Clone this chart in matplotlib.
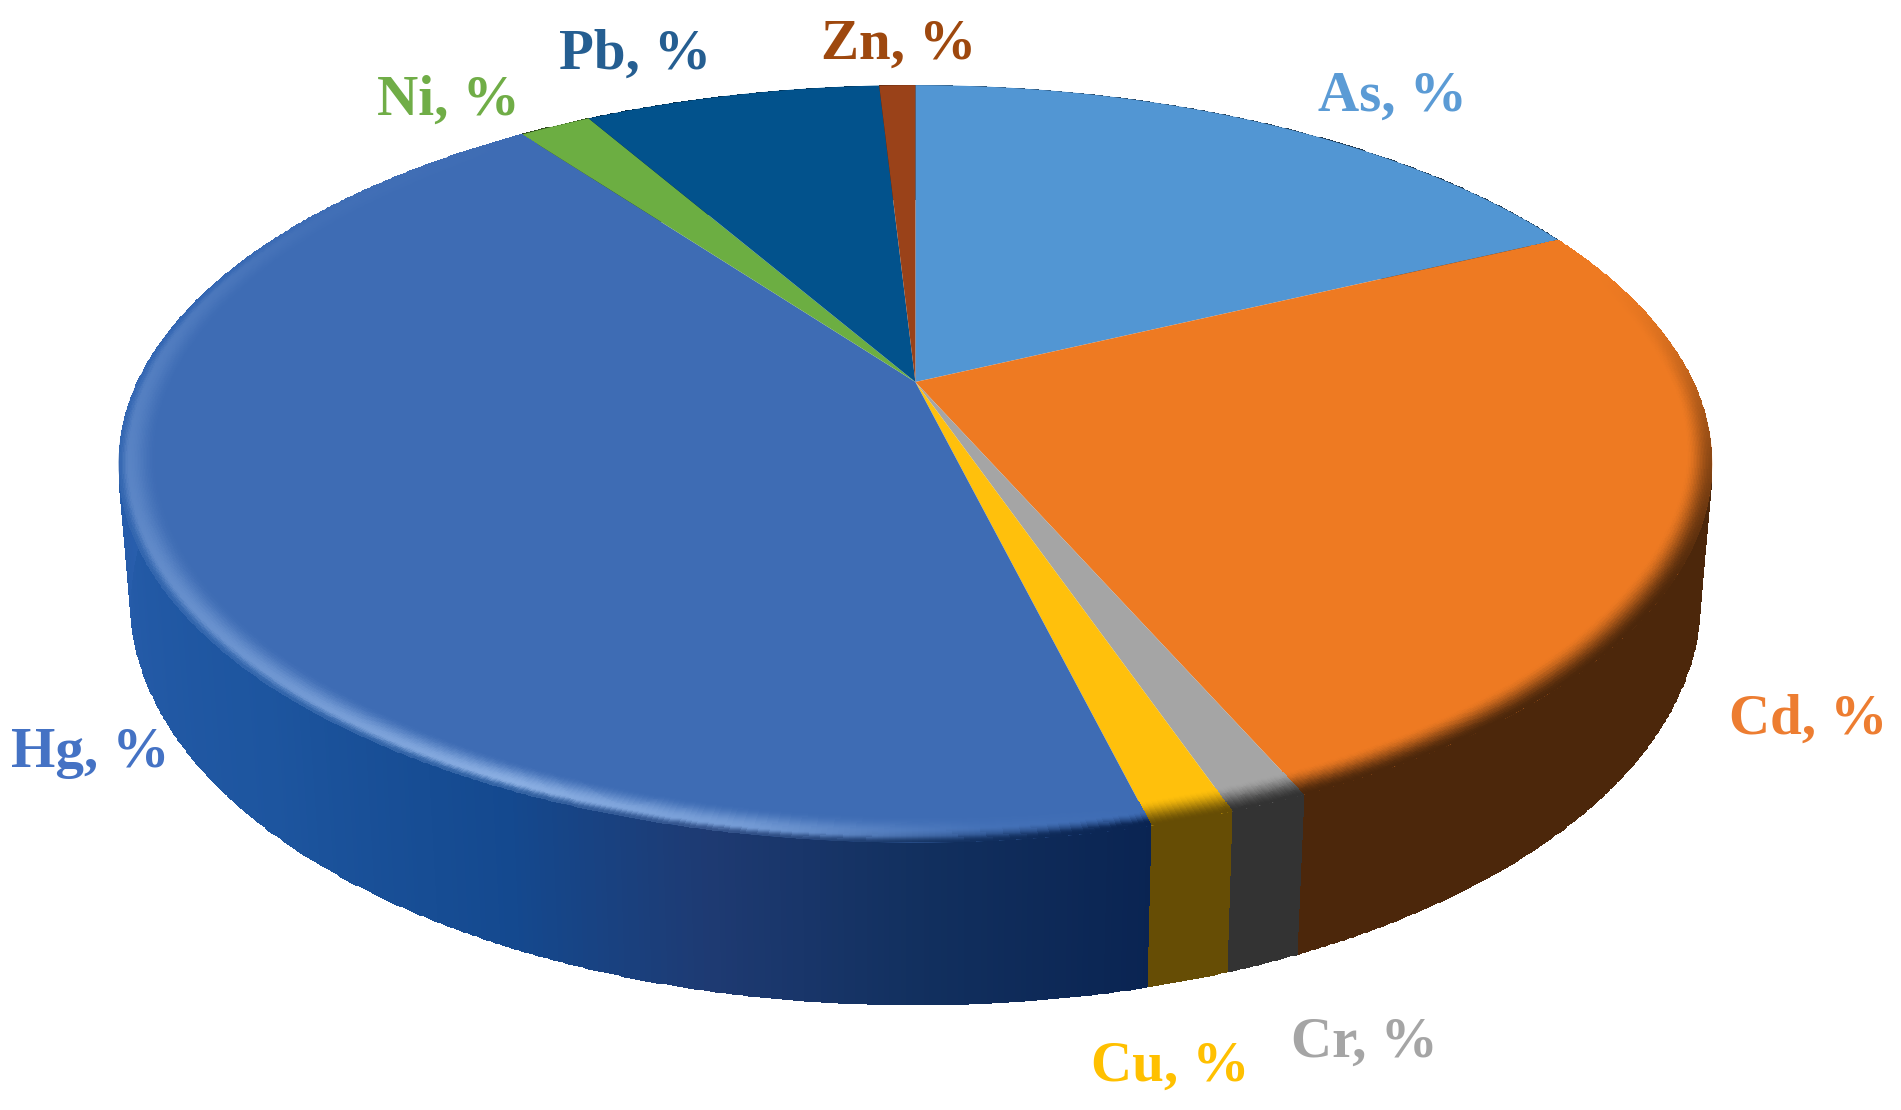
import numpy as np
import matplotlib
matplotlib.use("Agg")
import matplotlib.pyplot as plt
from matplotlib.colors import to_rgb
from matplotlib.path import Path
from matplotlib.transforms import Transform, Affine2D

# ---- data ----
metals = ["As", "Cd", "Cr", "Cu", "Hg", "Ni", "Pb", "Zn"]
shares = [17.9, 25.5, 1.3, 1.4, 43.7, 1.8, 7.4, 0.9]
top_colors = ["#5296d3", "#ee7a22", "#a5a5a5", "#ffc00c", "#3e6cb4", "#6cae42", "#02528c", "#9a4219"]
label_colors = ["#5b9bd5", "#ed7d31", "#a5a5a5", "#ffc000", "#4472c4", "#70ad47", "#255e91", "#9e480e"]
label_text = [m + ", %" for m in metals]
label_x = [1392, 1808, 1364, 1170, 90, 448, 635, 899]
label_y = [97, 720, 1043, 1067, 753, 101, 55, 45]
wall_dark = [0.32, 0.32, 0.31, 0.40, 0.5, 0.4, 0.4, 0.4]

# Hg wall colour along the angle (deg clockwise from top)
hg_ang = [166, 180, 192, 205, 225, 270, 323]
hg_cols = ["#0a2452", "#12305f", "#1e3a72", "#14498f", "#1d559f", "#2a5fae", "#2a5fae"]
# Hg rim highlight strength along the angle
hl_ang = [166, 176, 190, 205, 225, 250, 275, 300, 323]
hl_str = [0.0, 0.1, 0.7, 1.0, 0.65, 0.4, 0.25, 0.05, 0.0]

# ---- camera ----
CX, CY, SX, SY, K = 915.4, 382.0, 778.0, 361.0, 0.216
DROP, DEPTH = 137.0, 0.015
RIM = 0.955


def project(u, v, z=0.0):
    w = 1 + K * v + DEPTH * z
    return CX + SX * u / w, CY + (-SY * v + DROP * z) / w


class Perspective(Transform):
    input_dims = output_dims = 2
    is_affine = False
    has_inverse = False

    def transform_non_affine(self, values):
        values = np.asarray(values, float)
        x, y = project(values[:, 0], values[:, 1])
        return np.column_stack([x, y])

    def transform_path_non_affine(self, path):
        polys = path.transformed(Affine2D().scale(2000)).to_polygons()
        pts = np.vstack(polys) / 2000
        return Path(self.transform_non_affine(pts), closed=True)


def hex_array(cols):
    return np.array([to_rgb(c) for c in cols])


def wall_color(i, ang):
    if metals[i] == "Hg":
        tab = hex_array(hg_cols)
        return np.column_stack([np.interp(ang, hg_ang, tab[:, j]) for j in range(3)])
    return np.tile(np.array(to_rgb(top_colors[i])) * wall_dark[i], (len(ang), 1))


fig = plt.figure(figsize=(19.01, 11.10), dpi=100, facecolor="white")
ax = fig.add_axes([0, 0, 1, 1])
wedges, _ = ax.pie(shares, colors=top_colors, startangle=90, counterclock=False,
                   radius=1.0, wedgeprops={"linewidth": 0})
ax.set_aspect("auto")
ax.set_xlim(0, 1901)
ax.set_ylim(1110, 0)
ax.axis("off")

edges = np.concatenate([[0], np.cumsum(shares)]) / np.sum(shares) * 360

# side wall below the top face
for i in range(len(metals)):
    ang = np.linspace(edges[i], edges[i + 1], max(6, int(edges[i + 1] - edges[i]) * 3))
    t = np.radians(ang)
    u, v = np.sin(t), np.cos(t)
    zs = np.array([0.0, 1.0])
    X = np.array([project(u, v, z)[0] for z in zs])
    Y = np.array([project(u, v, z)[1] for z in zs])
    mid = (ang[:-1] + ang[1:]) / 2
    C = wall_color(i, mid)[None, :, :]
    ax.pcolormesh(X, Y, C, shading="flat", antialiased=False, linewidth=0, zorder=1)

# top face
persp = Perspective()
for w in wedges:
    w.set_transform(persp + ax.transData)
    w.set_zorder(2)

# bevel around the rim of the top face
rs = np.linspace(RIM, 1.0, 26)
tt = (rs[:-1] + rs[1:]) / 2
tt = (tt - RIM) / (1 - RIM)


def smooth(a, b, x):
    s = np.clip((x - a) / (b - a), 0, 1)
    return s * s * (3 - 2 * s)


for i in range(len(metals)):
    if metals[i] in ("As", "Zn", "Pb", "Ni"):
        continue
    ang = np.linspace(edges[i], edges[i + 1], max(6, int(edges[i + 1] - edges[i]) * 3))
    t = np.radians(ang)
    mid = (ang[:-1] + ang[1:]) / 2
    X = np.array([project(r * np.sin(t), r * np.cos(t))[0] for r in rs])
    Y = np.array([project(r * np.sin(t), r * np.cos(t))[1] for r in rs])
    base = np.array(to_rgb(top_colors[i]))
    wall = wall_color(i, mid)
    C = np.zeros((len(tt), len(mid), 3))
    if metals[i] == "Hg":
        light = np.array(to_rgb("#8aaee2"))
        s_ang = np.interp(mid, hl_ang, hl_str)
        fade = smooth(280, 310, mid)
        for a in range(len(tt)):
            up = smooth(0.0, 0.72, tt[a]) * s_ang
            dn = smooth(0.72, 1.0, tt[a])
            dark_end = 1 - smooth(166, 190, mid)
            col = base[None, :] + (light - base)[None, :] * up[:, None]
            col = col + (wall - col) * (dn * (0.75 + 0.25 * dark_end) * (1 - fade))[:, None]
            col = col + (wall - col) * (dark_end * smooth(0.45, 0.95, tt[a]))[:, None]
            C[a] = col
    else:
        strength = smooth(70, 125, mid) if metals[i] == "Cd" else np.ones_like(mid)
        for a in range(len(tt)):
            lo = 0.35 - 0.3 * smooth(90, 130, mid)
            f = np.clip((tt[a] - lo) / (1 - lo), 0, 1)
            f = f * f * (3 - 2 * f) * strength
            C[a] = base[None, :] + (wall - base) * f[:, None]
    ax.pcolormesh(X, Y, C, shading="flat", antialiased=False, linewidth=0, zorder=3)

# labels
for s, x, y, c in zip(label_text, label_x, label_y, label_colors):
    ax.text(x, y, s, color=c, ha="center", va="center", fontsize=41,
            fontweight="bold", family="Liberation Serif", zorder=5)

fig.savefig("out.png", dpi=100, facecolor="white")
